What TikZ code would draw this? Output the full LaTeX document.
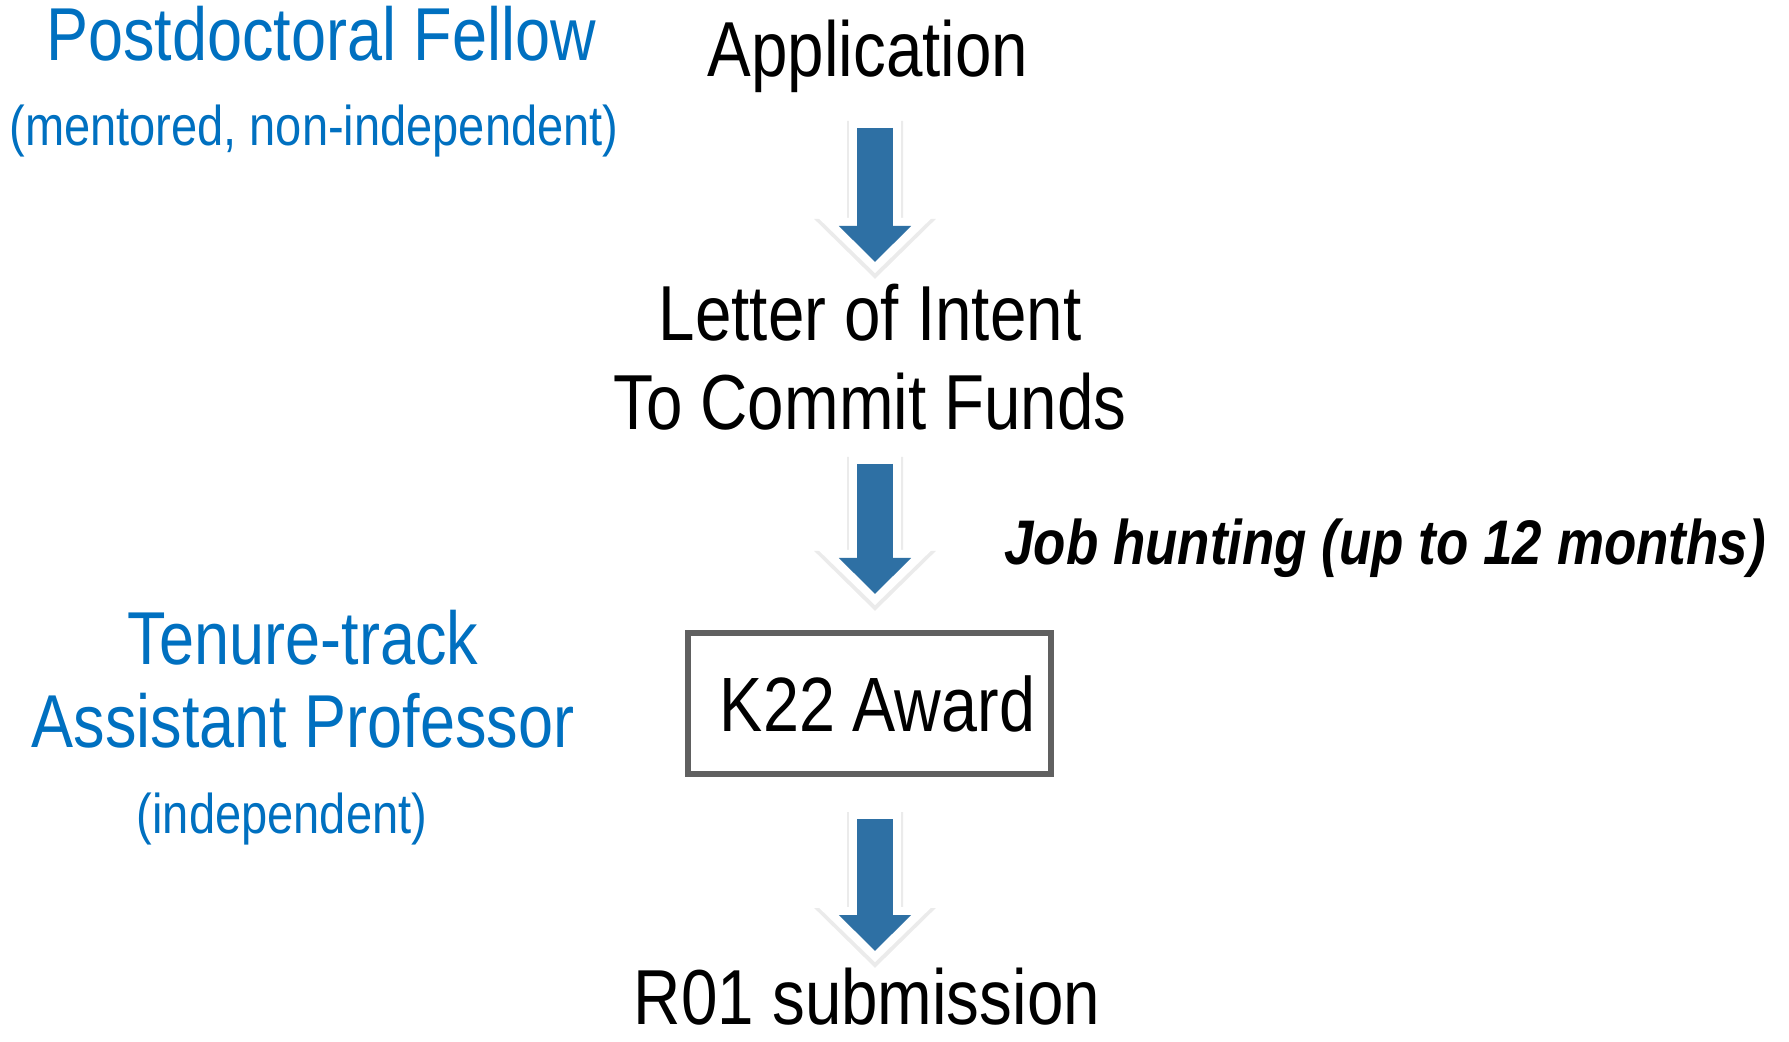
\documentclass[tikz,border=0pt]{standalone}
\usepackage{fontspec}
\setmainfont[FakeStretch=0.84]{Liberation Sans}
\usetikzlibrary{arrows.meta}
\definecolor{roleblue}{RGB}{0,112,192}
\definecolor{arrowblue}{RGB}{46,112,164}
\definecolor{boxgray}{RGB}{96,96,96}
\tikzset{
  steptext/.style={inner sep=0pt, align=center, font=\fontsize{39}{44.5}\selectfont},
  roletext/.style={inner sep=0pt, align=center, text=roleblue, font=\fontsize{37.5}{41.5}\selectfont},
  rolenote/.style={inner sep=0pt, text=roleblue, font=\fontsize{28}{33}\selectfont},
  awardbox/.style={draw=boxgray, line width=3pt, minimum width=181.5pt, minimum height=70.5pt,
    inner sep=0pt, font=\fontsize{38.5}{44}\selectfont},
  flowshadow/.style={draw=black, line width=28pt, -{Triangle[width=59pt,length=30pt]}, shorten <=-5pt, shorten >=-7pt},
  flowrim/.style={draw=white, line width=26pt, -{Triangle[width=55pt,length=27.6pt]}, shorten <=-4pt, shorten >=-5.6pt},
  flowarrow/.style={draw=arrowblue, line width=18pt, -{Triangle[width=35pt,length=18pt]}}
}
\begin{document}
\begin{tikzpicture}[x=0.5pt,y=-0.5pt]
\useasboundingbox (0,0) rectangle (1789,1042);
\node[roletext, anchor=base] (postdoc) at (321,61) {Postdoctoral Fellow};
\node[rolenote, anchor=base] (mentored) at (314,146) {(mentored, non-independent)};
\node[roletext, anchor=north] (tenure) at (303,610) {Tenure-track\\Assistant Professor};
\node[rolenote, anchor=base] (indep) at (282,833) {(independent)};
\node[steptext, anchor=base] (app) at (868,77) {Application};
\node[steptext, anchor=north] (loi) at (870,284) {Letter of Intent\\To Commit Funds};
\node[awardbox] (award) at (869.5,703.5) {\hspace*{8pt}K22 Award};
\node[steptext, anchor=base] (r01) at (867,1024) {R01 submission};
\node[inner sep=0pt, anchor=base, font=\fontsize{31.5}{36}\selectfont\bfseries\itshape] (job) at (1385,565) {Job hunting (up to 12 months)};
\coordinate (a1top) at (875,128);
\coordinate (a1tip) at (875,262);
\coordinate (a2top) at (875,464);
\coordinate (a2tip) at (875,594);
\coordinate (a3top) at (875,819);
\coordinate (a3tip) at (875,951);
\begin{scope}[transparency group, opacity=0.08]
\foreach \s/\e in {a1top/a1tip, a2top/a2tip, a3top/a3tip}
  \draw[flowshadow] ([yshift=-1.5pt]\s) -- ([yshift=-1.5pt]\e);
\end{scope}
\foreach \s/\e in {a1top/a1tip, a2top/a2tip, a3top/a3tip}{
  \draw[flowrim] (\s) -- (\e);
  \draw[flowarrow] (\s) -- (\e);
}
\end{tikzpicture}
\end{document}
